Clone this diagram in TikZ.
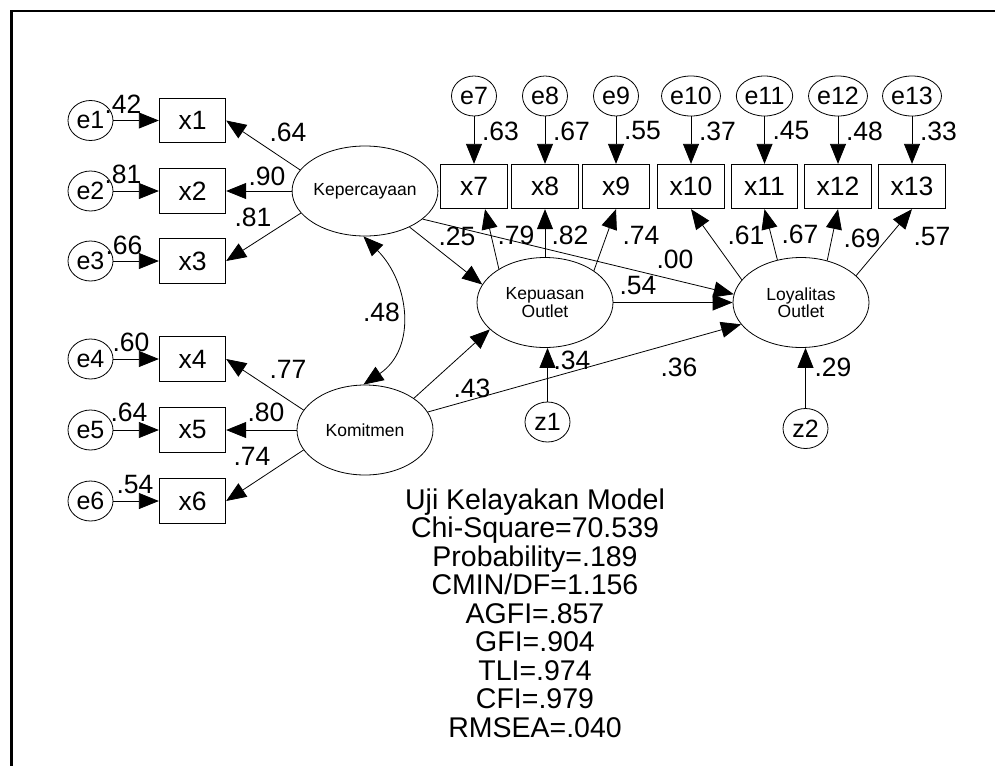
\documentclass[tikz,border=0pt]{standalone}
\usepackage{fontspec}
\setmainfont{Liberation Sans}
\usetikzlibrary{shapes.geometric,arrows.meta}
\begin{document}
\begin{tikzpicture}[x=1pt,y=-1pt,
  lat/.style={ellipse,draw,line width=0.8pt,minimum width=136pt,minimum height=90pt,inner sep=0pt,align=center,font=\fontsize{17.5}{16}\selectfont},
  err/.style={ellipse,draw,line width=0.8pt,minimum width=45pt,minimum height=40pt,inner sep=0pt,font=\fontsize{25}{25}\selectfont},
  obs/.style={rectangle,draw,line width=0.8pt,minimum width=66.5pt,minimum height=44.5pt,inner sep=0pt,font=\fontsize{26.5}{26.5}\selectfont},
  lbl/.style={inner sep=0pt,font=\fontsize{26.5}{26.5}\selectfont},
  stat/.style={inner sep=0pt,anchor=base,font=\fontsize{28.5}{28.5}\selectfont},
  arr/.style={line width=0.8pt,-{Triangle[length=20pt,width=16pt]}},
  dblarr/.style={line width=0.8pt,{Triangle[length=20pt,width=16pt]}-{Triangle[length=20pt,width=16pt]}},
]
\useasboundingbox (0,0) rectangle (995,766);
\coordinate (fr1) at (995,11);
\coordinate (fr2) at (11.4,11);
\coordinate (fr3) at (11.4,766);
\draw[line width=2.2pt] (fr1) -- (fr2) -- (fr3);

% latent variables
\node[lat] (kep) at (365,191) {Kepercayaan};
\node[lat] (km) at (365,430) {Komitmen};
\node[lat] (kp) at (545,302.5) {Kepuasan\\Outlet};
\node[lat] (lo) at (801,302.5) {Loyalitas\\Outlet};

% left indicators
\foreach \i/\y in {1/120.5,2/191,3/261,4/359,5/430,6/501}{
  \node[obs] (x\i) at (192.5,\y) {x\i};
  \node[err] (e\i) at (90.5,\y) {e\i};
  \draw[arr] (e\i) -- (x\i);
}
% top indicators
\foreach \i/\x in {7/474,8/545,9/616,10/691,11/764.5,12/838,13/912}{
  \node[obs] (x\i) at (\x,186.5) {x\i};
  \node[err] (e\i) at (\x,96) {e\i};
  \draw[arr] (e\i) -- (x\i);
}
% disturbances
\node[err] (z1) at (547.5,422) {z1};
\node[err] (z2) at (805.5,428.5) {z2};

% loadings
\draw[arr] (kep.162) -- (x1.east);
\draw[arr] (kep) -- (x2);
\draw[arr] (kep.199) -- (x3.east);
\draw[arr] (km.162) -- (x4.east);
\draw[arr] (km) -- (x5);
\draw[arr] (km.198) -- (x6.east);
\draw[arr] (kp.144) -- (x7.-64);
\draw[arr] (kp) -- (x8);
\draw[arr] (kp.33) -- (x9.south);
\draw[arr] (lo.159) -- (x10.south);
\draw[arr] (lo.119) -- (x11.south);
\draw[arr] (lo.58) -- (x12.south);
\draw[arr] (lo.26) -- (x13.south);

% structural paths
\draw[arr] (kep.-39) -- (kp.164);
\draw[arr] (kep.-26) -- (lo.173);
\draw[arr] (km.33) -- (kp.206);
\draw[arr] (km.16) -- (lo.200);
\draw[arr] (kp) -- (lo);
\draw[arr] (z1.north) -- (z1.north |- kp.south);
\draw[arr] (z2.north) -- (z2.north |- lo.south);
\draw[dblarr] (kep.-92) .. controls +(-45:65pt) and +(34:65pt) .. (km.92);

% error labels
\node[lbl] (le1) at (123,104) {.42};
\node[lbl] (le2) at (123,174) {.81};
\node[lbl] (le3) at (124,245) {.66};
\node[lbl] (le4) at (131,342) {.60};
\node[lbl] (le5) at (129,412) {.64};
\node[lbl] (le6) at (135,485) {.54};
\node[lbl] (le7) at (500.5,131) {.63};
\node[lbl] (le8) at (571.5,131) {.67};
\node[lbl] (le9) at (642.5,131) {.55};
\node[lbl] (le10) at (717.5,131) {.37};
\node[lbl] (le11) at (791,131) {.45};
\node[lbl] (le12) at (864.5,131) {.48};
\node[lbl] (le13) at (938.5,131) {.33};
% loading labels
\node[lbl] (lx1) at (288,132) {.64};
\node[lbl] (lx2) at (267,176) {.90};
\node[lbl] (lx3) at (253,217) {.81};
\node[lbl] (lx4) at (288,369) {.77};
\node[lbl] (lx5) at (266,412) {.80};
\node[lbl] (lx6) at (252,456) {.74};
\node[lbl] (lx7) at (516,235) {.79};
\node[lbl] (lx8) at (570,235) {.82};
\node[lbl] (lx9) at (641,235) {.74};
\node[lbl] (lx10) at (746,235) {.61};
\node[lbl] (lx11) at (800,234) {.67};
\node[lbl] (lx12) at (862,238) {.69};
\node[lbl] (lx13) at (932,237) {.57};
% structural labels
\node[lbl] (lcov) at (381.5,312) {.48};
\node[lbl] (lkk) at (457,236) {.25};
\node[lbl] (lkl) at (675,259) {.00};
\node[lbl] (lpl) at (638,286) {.54};
\node[lbl] (lmk) at (472,388) {.43};
\node[lbl] (lml) at (679,367) {.36};
\node[lbl] (lz1) at (572,360) {.34};
\node[lbl] (lz2) at (833,367) {.29};

% fit statistics
\node[stat] (s1) at (535,509) {Uji Kelayakan Model};
\node[stat] (s2) at (535,537.5) {Chi-Square=70.539};
\node[stat] (s3) at (535,566) {Probability=.189};
\node[stat] (s4) at (535,594.5) {CMIN/DF=1.156};
\node[stat] (s5) at (535,623) {AGFI=.857};
\node[stat] (s6) at (535,651.5) {GFI=.904};
\node[stat] (s7) at (535,680) {TLI=.974};
\node[stat] (s8) at (535,708.5) {CFI=.979};
\node[stat] (s9) at (535,737) {RMSEA=.040};
\end{tikzpicture}
\end{document}
